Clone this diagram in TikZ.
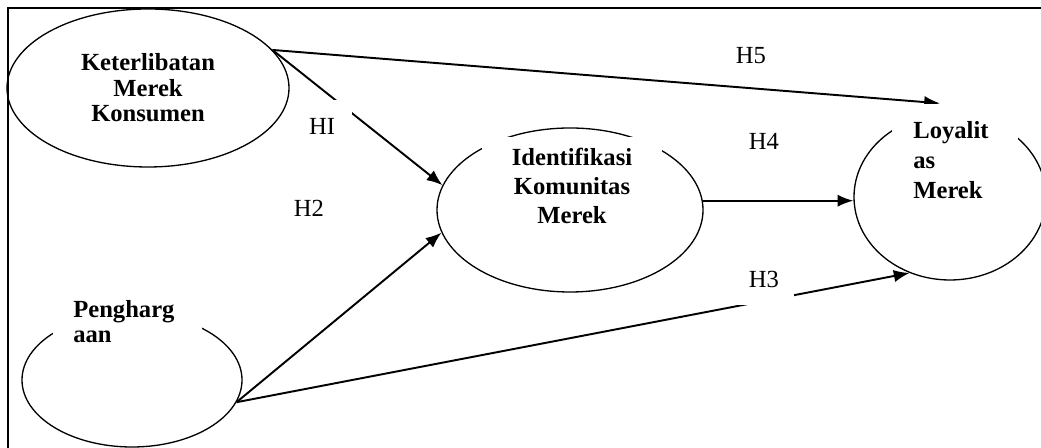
\documentclass[tikz,border=0pt]{standalone}
\usepackage{fontspec}
\setmainfont{Liberation Serif}
\usetikzlibrary{arrows.meta,positioning,shapes.geometric}

\begin{document}
\begin{tikzpicture}[
	>={Latex[length=9pt,width=7pt]},
	frame/.style={line width=1.2pt},
	construct/.style={ellipse, draw, line width=0.75pt, inner sep=0pt},
	effect/.style={->,line width=1.1pt},
	hyp/.style={fill=white, minimum width=1.2cm, minimum height=1.04cm, inner sep=0pt,
		font=\fontsize{14}{16}\selectfont},
	tbox/.style={fill=white, align=left}
	]
	\useasboundingbox (0,0) rectangle (20.82,8.96);
	\draw[frame] (0.16,0) -- (0.16,8.80) -- (20.82,8.80);
	
	% constructs
	\node[construct, minimum width=5.64cm, minimum height=3.16cm, align=center,
	font=\fontsize{14}{14.5}\selectfont\bfseries] (kmk) at (2.96,7.20) {Keterlibatan\\Merek\\Konsumen};
	\node[construct, minimum width=5.32cm, minimum height=3.28cm] (ikm) at (11.40,4.76) {};
	\node[construct, minimum width=4.40cm, minimum height=2.68cm] (peng) at (2.64,1.36) {};
	\node[construct, minimum width=3.84cm, minimum height=3.32cm] (loy) at (19.00,5.02) {};
	
	\coordinate[above left=0.2cm and 0.2cm of loy.north] (h5tip);
	
	% paths
	\draw[effect] (kmk.17) -- (h5tip);
	\draw[effect] (kmk.17) -- (ikm.169);
	\draw[effect] (peng.348) -- (ikm.190);
	\draw[effect] (peng.348) -- (loy.242);
	\draw[effect] (ikm.4) -- (ikm.4 -| loy.west);
	
	% labels
	\node[hyp] (h1) at (6.44,6.44) {HI};
	\node[hyp] (h2) at (6.18,4.80) {H2};
	\node[hyp] (h5) at (15.02,7.84) {H5};
	\node[hyp] (h4) at (15.28,6.14) {H4};
	\node[hyp] (h3) at (15.28,3.38) {H3};
	
	% text boxes
	\node[tbox, anchor=north, align=center, text width=3.0cm, inner xsep=0.3cm, inner ysep=0.22cm,
	font=\fontsize{14}{16.5}\selectfont\bfseries] (ikmtext) at (11.44,6.22) {Identifikasi\\Komunitas\\Merek};
	\node[tbox, anchor=north west, text width=2.18cm, inner xsep=0.4cm, inner ysep=0.24cm,
	font=\fontsize{14}{14}\selectfont\bfseries] (pengtext) at (1.06,3.20) {Pengharg\\aan};
	\node[tbox, anchor=north west, text width=1.68cm, inner xsep=0.42cm, inner ysep=0.34cm,
	font=\fontsize{14}{17}\selectfont\bfseries] (loytext) at (17.84,6.88) {Loyalit\\as\\Merek};
\end{tikzpicture}
\end{document}
